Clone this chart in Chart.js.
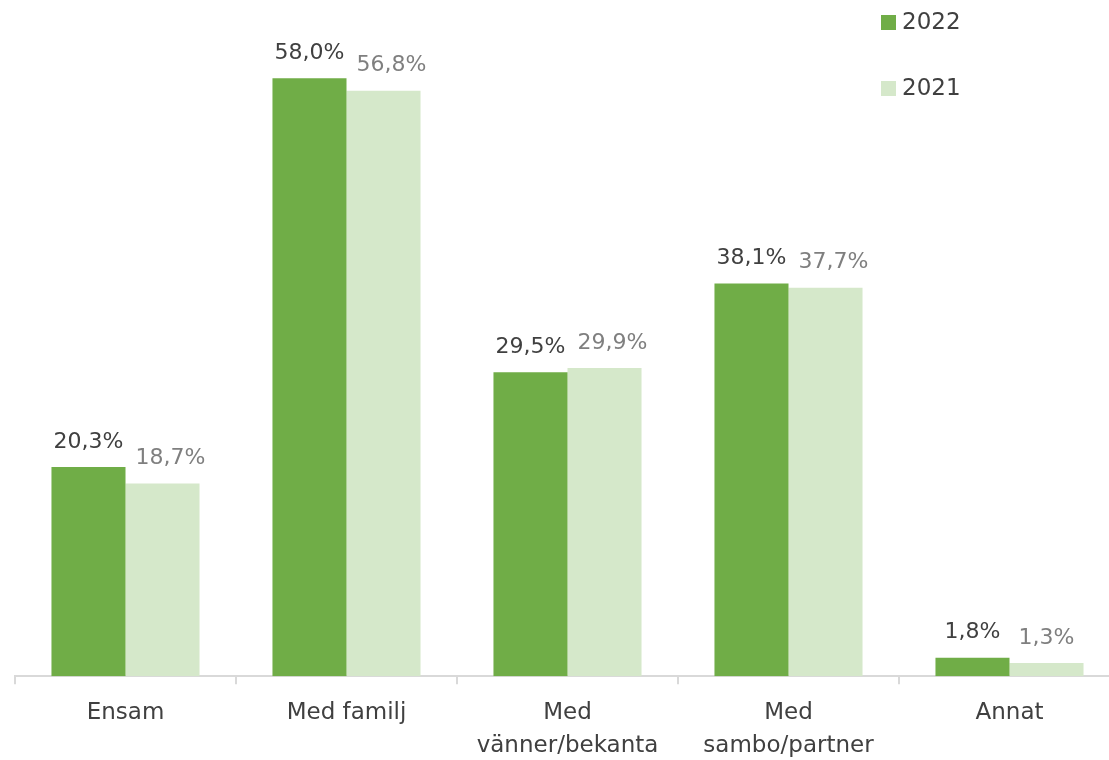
<!DOCTYPE html>
<html>
<head>
<meta charset="utf-8">
<script src="https://cdn.jsdelivr.net/npm/chart.js@4/dist/chart.umd.min.js"></script>
<style>
  html, body { margin: 0; padding: 0; background: #fff; overflow: hidden; }
  #wrap { width: 1120px; height: 775px; position: relative; }
</style>
</head>
<body>
<div id="wrap"><canvas id="chartCanvas"></canvas></div>
<script>
const kategorier = [['Ensam'], ['Med familj'], ['Med', 'vänner/bekanta'], ['Med', 'sambo/partner'], ['Annat']];
const varden2022 = [20.3, 58.0, 29.5, 38.1, 1.8];
const varden2021 = [18.7, 56.8, 29.9, 37.7, 1.3];
const serieNamn = ['2022', '2021'];

const FONT = '"DejaVu Sans", sans-serif';

function fmt(v) {
  return v.toFixed(1).replace('.', ',') + '%';
}

// etiketter ovanför staplarna, 2021-etiketten flyttas åt höger om den krockar
const etikettPlugin = {
  id: 'etiketter',
  afterDatasetsDraw(chart) {
    const ctx = chart.ctx;
    ctx.save();
    ctx.font = '22px ' + FONT;
    ctx.textAlign = 'center';
    ctx.textBaseline = 'middle';
    const m0 = chart.getDatasetMeta(0);
    const m1 = chart.getDatasetMeta(1);
    const d0 = chart.data.datasets[0].data;
    const d1 = chart.data.datasets[1].data;
    for (let j = 0; j < d0.length; j++) {
      const a = m0.data[j], b = m1.data[j];
      const ta = fmt(d0[j]), tb = fmt(d1[j]);
      const wa = ctx.measureText(ta).width, wb = ctx.measureText(tb).width;
      const ya = a.y - 25, yb = b.y - 25;
      let xb = b.x;
      const hoger = a.x + wa / 2;
      if (Math.abs(ya - yb) < 24 && xb - wb / 2 < hoger + 12) {
        xb = hoger + 12 + wb / 2;
      }
      ctx.fillStyle = '#404040';
      ctx.fillText(ta, a.x, ya);
      ctx.fillStyle = '#7f7f7f';
      ctx.fillText(tb, xb, yb);
    }
    ctx.restore();
  }
};

// legend uppe till höger
const legendPlugin = {
  id: 'egenLegend',
  afterDraw(chart) {
    const ctx = chart.ctx;
    ctx.save();
    ctx.font = '23px ' + FONT;
    ctx.textBaseline = 'middle';
    chart.data.datasets.forEach((ds, i) => {
      const y = 22 + i * 66;
      ctx.fillStyle = ds.backgroundColor;
      ctx.fillRect(881, y - 7, 15, 15);
      ctx.fillStyle = '#404040';
      ctx.fillText(ds.label, 902, y + 1);
    });
    ctx.restore();
  }
};

const ctx = document.getElementById('chartCanvas').getContext('2d');
const chart = new Chart(ctx, {
  type: 'bar',
  data: {
    labels: kategorier,
    datasets: [
      { label: serieNamn[0], data: varden2022, backgroundColor: '#70AD47' },
      { label: serieNamn[1], data: varden2021, backgroundColor: '#D5E8CA' }
    ]
  },
  options: {
    responsive: true,
    maintainAspectRatio: false,
    animation: false,
    categoryPercentage: 0.67,
    barPercentage: 1,
    layout: { padding: { left: 15, right: 0, top: 0, bottom: 0 } },
    plugins: {
      legend: { display: false },
      tooltip: { enabled: false }
    },
    scales: {
      x: {
        grid: { display: true, drawOnChartArea: false, drawTicks: true, tickLength: 8, color: '#d9d9d9', lineWidth: 2, offset: true },
        border: { color: '#d9d9d9', width: 2 },
        ticks: { color: '#404040', font: { family: FONT, size: 23, lineHeight: 1.45 }, padding: 12, maxRotation: 0 }
      },
      y: {
        display: false,
        min: 0,
        max: 65.6
      }
    }
  },
  plugins: [etikettPlugin, legendPlugin]
});
</script>
</body>
</html>
